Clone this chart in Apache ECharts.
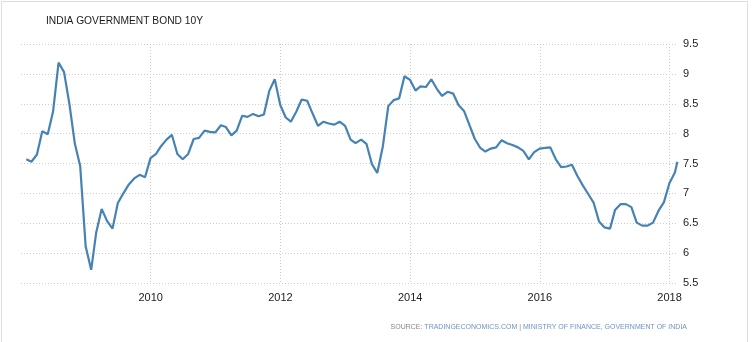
<!DOCTYPE html>
<html>
<head>
<meta charset="utf-8">
<script src="https://cdn.jsdelivr.net/npm/echarts@6/dist/echarts.min.js"></script>
<style>
html,body{margin:0;padding:0;background:#fff;}
#chart{width:754px;height:342px;}
</style>
</head>
<body>
<div id="chart"></div>
<script>
// India 10Y government bond yield, monthly (month-end), %
var y2008 = [7.57, 7.53, 7.65, 8.04, 7.99, 8.37, 9.19, 9.03, 8.50, 7.83, 7.46, 6.11];
var y2009 = [5.72, 6.34, 6.74, 6.54, 6.41, 6.84, 7.00, 7.15, 7.25, 7.31, 7.27, 7.59];
var y2010 = [7.66, 7.79, 7.90, 7.98, 7.66, 7.57, 7.66, 7.91, 7.93, 8.05, 8.03, 8.02];
var y2011 = [8.14, 8.11, 7.97, 8.05, 8.30, 8.28, 8.33, 8.29, 8.32, 8.72, 8.91, 8.48];
var y2012 = [8.27, 8.20, 8.37, 8.57, 8.55, 8.34, 8.13, 8.20, 8.17, 8.15, 8.20, 8.13];
var y2013 = [7.90, 7.84, 7.90, 7.83, 7.49, 7.34, 7.78, 8.46, 8.56, 8.59, 8.96, 8.90];
var y2014 = [8.72, 8.79, 8.78, 8.91, 8.75, 8.63, 8.70, 8.67, 8.48, 8.38, 8.15, 7.91];
var y2015 = [7.76, 7.70, 7.75, 7.77, 7.89, 7.84, 7.81, 7.77, 7.71, 7.57, 7.69, 7.75];
var y2016 = [7.76, 7.77, 7.57, 7.44, 7.45, 7.48, 7.29, 7.13, 6.99, 6.84, 6.53, 6.43];
var y2017 = [6.41, 6.72, 6.82, 6.82, 6.77, 6.51, 6.46, 6.46, 6.51, 6.71, 6.85, 7.17];
var y2018 = [7.35];
var lastObsDate = '2018-02-14';
var lastObsValue = 7.53;

var yearlySeries = [
  [2008, y2008], [2009, y2009], [2010, y2010], [2011, y2011], [2012, y2012],
  [2013, y2013], [2014, y2014], [2015, y2015], [2016, y2016], [2017, y2017], [2018, y2018]
];

var yTicks = {min: 5.5, max: 9.5, step: 0.5};
var xTicks = {min: 2008, max: 2018.13, step: 2};

function decYear(t) {
  var d = new Date(t);
  var yr = d.getUTCFullYear();
  var a = Date.UTC(yr, 0, 1), b = Date.UTC(yr + 1, 0, 1);
  return yr + (t - a) / (b - a);
}

var points = [];
yearlySeries.forEach(function (ys) {
  ys[1].forEach(function (v, m) {
    var t = Date.UTC(ys[0], m + 1, 0); // month end
    points.push([decYear(t), v]);
  });
});
(function () {
  var p = lastObsDate.split('-');
  points.push([decYear(Date.UTC(+p[0], +p[1] - 1, +p[2])), lastObsValue]);
})();

var chart = echarts.init(document.getElementById('chart'));
var gridStyle = {color: '#cccccc', width: 1, type: [1, 2]};
chart.setOption({
  animation: false,
  backgroundColor: '#ffffff',
  textStyle: {fontFamily: 'Liberation Sans'},
  graphic: [
    {type: 'rect', silent: true, shape: {x: 1.5, y: 1.5, width: 746, height: 380},
     style: {fill: 'none', stroke: '#dddddd', lineWidth: 1}},
    {type: 'text', silent: true, x: 46, y: 15, scaleX: 0.89,
     style: {text: 'INDIA GOVERNMENT BOND 10Y', font: '11.5px "Liberation Sans"',
       fill: '#1a1a1a', verticalAlign: 'top', align: 'left'}},
    {type: 'text', right: 67, top: 324, silent: true,
     style: {
       text: '{g|SOURCE: }{b|TRADINGECONOMICS.COM}{g| | }{b|MINISTRY OF FINANCE, GOVERNMENT OF INDIA}',
       rich: {
         g: {fontFamily: 'Liberation Sans', fontSize: 7, fill: '#888888'},
         b: {fontFamily: 'Liberation Sans', fontSize: 7, fill: '#6f95c2'}
       }
     }}
  ],
  grid: {left: 21, right: 76, top: 44, bottom: 59, containLabel: false},
  xAxis: {
    type: 'value',
    min: xTicks.min, max: xTicks.max, interval: xTicks.step,
    axisLine: {show: false}, axisTick: {show: false},
    axisLabel: {
      show: true, showMinLabel: false, showMaxLabel: false, margin: 9,
      color: '#222', fontSize: 11, fontFamily: 'Liberation Sans',
      formatter: function (v) { return String(Math.round(v)); }
    },
    splitLine: {show: true, showMinLine: false, showMaxLine: false, lineStyle: gridStyle}
  },
  yAxis: {
    type: 'value', position: 'right',
    min: yTicks.min, max: yTicks.max, interval: yTicks.step,
    axisLine: {show: false}, axisTick: {show: false},
    axisLabel: {margin: 5, color: '#222', fontSize: 11, fontFamily: 'Liberation Sans',
      formatter: function (v) { return String(v); }},
    splitLine: {show: true, lineStyle: gridStyle}
  },
  series: [{
    type: 'line',
    data: points,
    showSymbol: false,
    symbol: 'none',
    lineStyle: {color: '#4682b4', width: 2.2},
    itemStyle: {color: '#4682b4'}
  }]
});
</script>
</body>
</html>
